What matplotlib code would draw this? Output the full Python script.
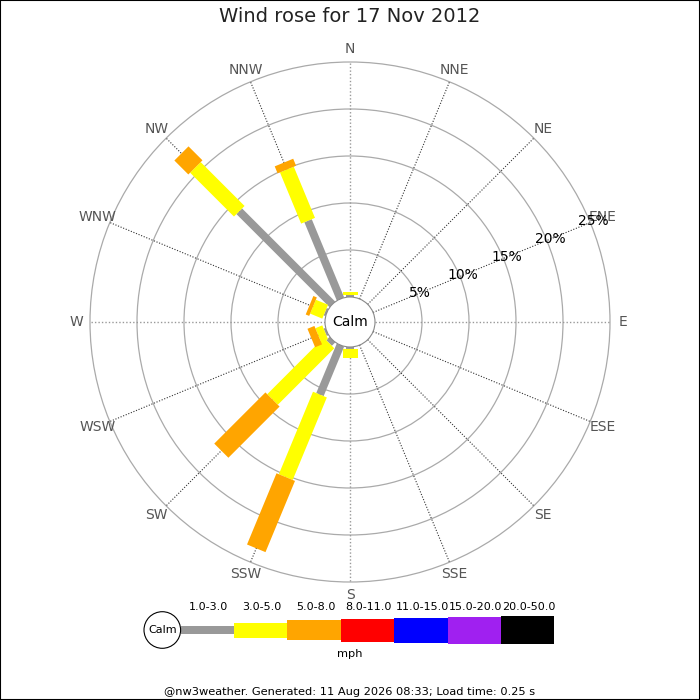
import matplotlib
matplotlib.use("Agg")
import matplotlib.pyplot as plt
from matplotlib.patches import Circle, Polygon, Rectangle
import numpy as np

# wind rose data: percent of time per direction, per speed band (mph)
directions = ["N", "NNE", "NE", "ENE", "E", "ESE", "SE", "SSE",
              "S", "SSW", "SW", "WSW", "W", "WNW", "NW", "NNW"]
band_labels = ["1.0-3.0", "3.0-5.0", "5.0-8.0", "8.0-11.0",
               "11.0-15.0", "15.0-20.0", "20.0-50.0"]
band_colors = ["#999999", "#ffff00", "#ffa500", "#ff0000",
               "#0000ff", "#a020f0", "#000000"]
band_1_3 = [0.2, 0, 0, 0, 0, 0, 0, 0, 0.2, 5.7, 0.5, 0.2, 0, 0.2, 14.0, 9.0]
band_3_5 = [0.3, 0, 0, 0, 0, 0, 0, 0, 1.0, 9.5, 8.5, 0.8, 0, 1.4, 6.6, 5.9]
band_5_8 = [0, 0, 0, 0, 0, 0, 0, 0, 0, 8.2, 7.7, 0.8, 0, 0.4, 2.1, 0.8]
band_8_11 = [0] * 16
band_11_15 = [0] * 16
band_15_20 = [0] * 16
band_20_50 = [0] * 16
bands = [band_1_3, band_3_5, band_5_8, band_8_11, band_11_15, band_15_20, band_20_50]
rings = [5, 10, 15, 20, 25]

title = "Wind rose for 17 Nov 2012"
footer = "@nw3weather. Generated: 11 Aug 2026 08:33; Load time: 0.25 s"

PX = 9.4            # pixels per percent
CX, CY = 350, 322   # centre in pixels
calm = 25 / PX      # calm circle radius in percent units
widths_px = [8, 15, 20, 23, 25, 27, 28]

fig = plt.figure(figsize=(7, 7), dpi=100)
ax = fig.add_axes([0, 0, 1, 1])
ax.set_xlim(-CX / PX, (700 - CX) / PX)
ax.set_ylim(-(700 - CY) / PX, CY / PX)
ax.axis("off")


def pt(theta, r):
    a = np.deg2rad(theta)
    return np.sin(a) * r, np.cos(a) * r


def px(x, y):
    # figure pixel -> data
    return (x - CX) / PX, (CY - y) / PX


# rings
for r in rings:
    ax.add_patch(Circle((0, 0), calm + r, fill=False, ec="#aaaaaa", lw=0.9, zorder=1))

# spokes
for i, d in enumerate(directions):
    th = i * 22.5
    x0, y0 = pt(th, calm)
    x1, y1 = pt(th, calm + rings[-1])
    if i % 4 == 0:
        ax.plot([x0, x1], [y0, y1], color="#999999", lw=1.0, ls=(0, (1, 1.5)), zorder=1)
    else:
        ax.plot([x0, x1], [y0, y1], color="#333333", lw=0.8, ls=(0, (1, 1.5)), zorder=1)
    lx, ly = pt(th, calm + rings[-1] + 1.4)
    ax.text(lx, ly, d, ha="center", va="center", fontsize=10, color="#555555", zorder=2)

# bars
for i in range(len(directions)):
    th = i * 22.5
    a = np.deg2rad(th)
    u = np.array([np.sin(a), np.cos(a)])
    n = np.array([np.cos(a), -np.sin(a)])
    start = calm
    for b, band in enumerate(bands):
        v = band[i]
        if v <= 0:
            continue
        hw = widths_px[b] / PX / 2
        end = start + v
        corners = [u * start + n * hw, u * end + n * hw,
                   u * end - n * hw, u * start - n * hw]
        ax.add_patch(Polygon(corners, closed=True, fc=band_colors[b], ec="none", zorder=3 + b))
        start = end

# ring labels along ENE
for r in rings:
    lx, ly = pt(67.5, calm + r + 0.35)
    ax.text(lx, ly, f"{r}%", ha="center", va="center", fontsize=10, color="black", zorder=12)

# calm circle
ax.add_patch(Circle((0, 0), calm, fc="white", ec="#888888", lw=0.8, zorder=20))
ax.text(0, 0, "Calm", ha="center", va="center", fontsize=10, zorder=21)

# legend
lx0, ly0 = px(162.3, 630)
ax.add_patch(Circle((lx0, ly0), 18.3 / PX, fc="white", ec="black", lw=0.8, zorder=20))
ax.text(lx0, ly0, "Calm", ha="center", va="center", fontsize=8, zorder=21)
seg = 53.4
for b, lab in enumerate(band_labels):
    x0 = 180.5 + b * seg
    bx, by = px(x0, 630 + widths_px[b] / 2)
    ax.add_patch(Rectangle((bx, by), seg / PX, widths_px[b] / PX,
                           fc=band_colors[b], ec="none", zorder=10))
    tx, ty = px(x0 + seg / 2 + 1.5, 607)
    ax.text(tx, ty, lab, ha="center", va="center", fontsize=8)
mx, my = px(350, 654)
ax.text(mx, my, "mph", ha="center", va="center", fontsize=8.2)

fx, fy = px(350, 692)
ax.text(fx, fy, footer, ha="center", va="center", fontsize=8.2)
tx, ty = px(350, 17)
ax.text(tx, ty, title, ha="center", va="center", fontsize=14, color="#222222")

# border
fig.patches.append(Rectangle((0, 0), 1, 1, transform=fig.transFigure,
                             fill=False, ec="black", lw=1.5))

fig.savefig("out.png", dpi=100)
